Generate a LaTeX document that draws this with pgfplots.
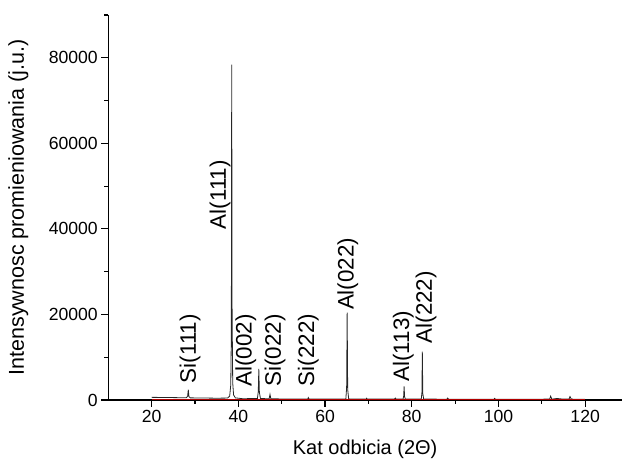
\documentclass[border=0pt]{standalone}
\usepackage{fontspec}
\setmainfont{Liberation Sans}
\usepackage{pgfplots}
\pgfplotsset{compat=1.18}

\begin{document}
\begin{tikzpicture}
\useasboundingbox (0,0) rectangle (622pt,460pt);
\begin{axis}[
  at={(108.3pt,60pt)}, anchor=south west,
  scale only axis, width=513.7pt, height=385pt,
  xmin=10, xmax=128.5, ymin=0, ymax=90000,
  axis lines*=left,
  axis line style={line width=1.3pt},
  xtick={20,40,...,120}, minor xtick={30,50,...,110},
  ytick={0,20000,...,80000}, minor ytick={10000,30000,...,90000},
  tick align=outside, major tick length=7pt, minor tick length=4pt,
  tick style={line width=1.2pt,black},
  scaled y ticks=false,
  /pgf/number format/1000 sep={},
  /pgf/number format/assume math mode=true,
  ticklabel style={font=\fontsize{17.6}{20}\selectfont},
  label style={font=\fontsize{20}{24}\selectfont},
  xlabel={Kat odbicia (2Θ)},
  ylabel={Intensywnosc promieniowania (j.u.)},
  xlabel style={at={(axis description cs:0.5,0)}, yshift=-49pt, anchor=center},
  ylabel style={at={(axis description cs:-0.1752,0.5)}, anchor=center,
    font=\fontsize{21.5}{24}\selectfont},
]
% measured pattern
\addplot[black!85, line width=0.8pt] coordinates {
(20,620) (22,600) (25,560) (28.0,520) (28.3,900) (28.45,2400) (28.6,800) (28.9,500)
(32,460) (35,420) (37.5,450) (38.0,900) (38.25,3500) (38.38,15000) (38.47,78400)
(38.56,20000) (38.7,4000) (38.9,1200) (39.3,500) (41,300) (44.4,350) (44.6,2000)
(44.72,7300) (44.85,1800) (45.1,350) (47.1,280) (47.3,1300) (47.5,280) (52,220)
(56.0,230) (56.15,550) (56.3,220) (64.8,250) (64.98,3000) (65.1,20400) (65.22,2500)
(65.45,250) (69.5,220) (69.6,400) (69.7,220) (76,200) (76.2,450) (76.4,200)
(78.0,220) (78.15,1000) (78.23,3200) (78.35,800) (78.5,220) (82.2,220) (82.35,1800)
(82.44,11300) (82.55,1500) (82.75,220) (88.1,180) (88.3,450) (88.5,180) (99,180)
(99.1,380) (99.3,180) (111.8,200) (112.05,900) (112.3,200) (113.5,350) (114.5,250)
(116.3,250) (116.5,800) (116.8,200) (120,180)
};
% background line
\addplot[red!70!black, line width=0.8pt] coordinates {(20,60) (120,60)};

% peak labels
\begin{scope}[every node/.style={rotate=90, anchor=west, inner sep=0pt, font=\fontsize{22.4}{26}\selectfont}]
\node at (axis cs:28.85,3900) {Si(111)};
\node at (axis cs:35.77,39900) {Al(111)};
\node at (axis cs:41.7,3100) {Al(002)};
\node at (axis cs:48.5,3100) {Si(022)};
\node at (axis cs:56.15,3200) {Si(222)};
\node at (axis cs:65.23,21000) {Al(022)};
\node at (axis cs:78.08,4300) {Al(113)};
\node at (axis cs:83.3,13200) {Al(222)};
\end{scope}
\end{axis}
\end{tikzpicture}
\end{document}
